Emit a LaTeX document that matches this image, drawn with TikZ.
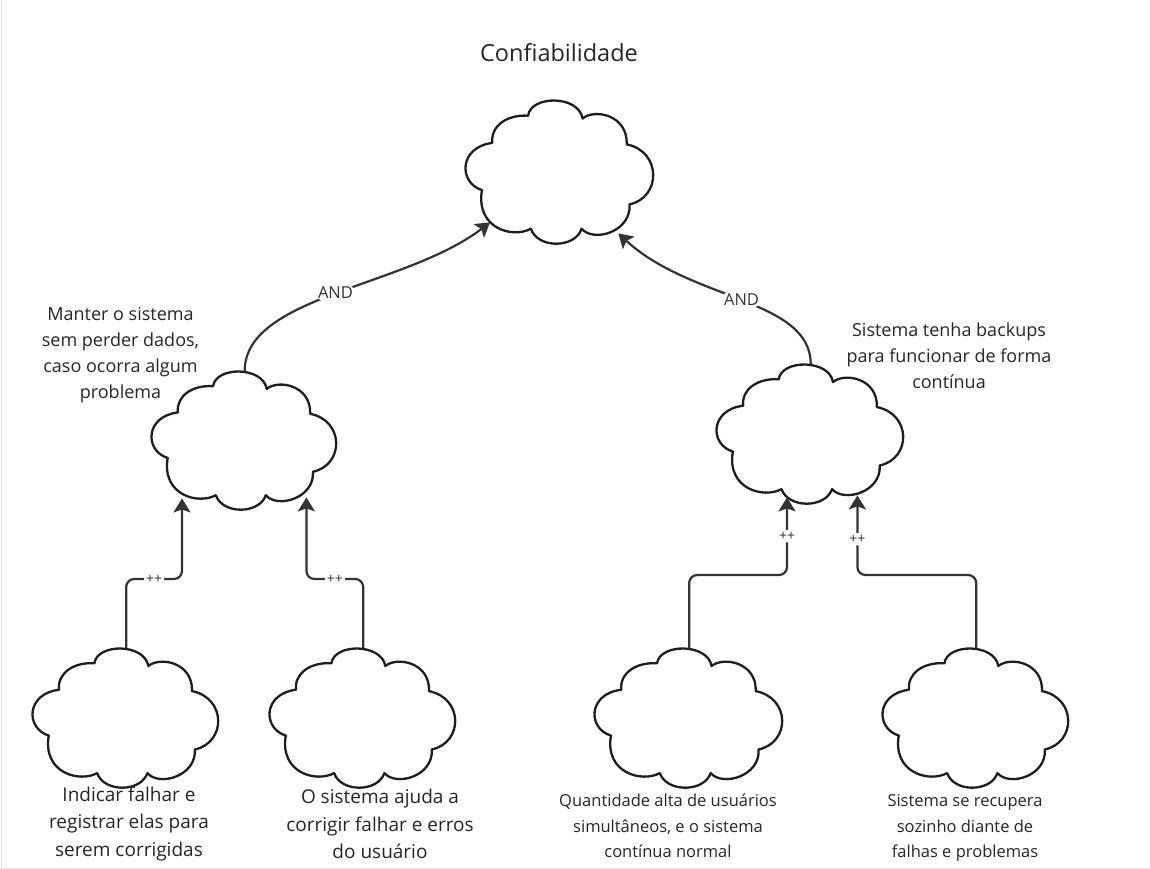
\documentclass[tikz,border=0pt]{standalone}
\usepackage{fontspec}
\setmainfont{Open Sans}
\usetikzlibrary{arrows.meta,calc}
\definecolor{ink}{HTML}{1E1E1E}
\definecolor{conncol}{HTML}{333333}
\definecolor{txt}{HTML}{262626}
\tikzset{
  cloudline/.style={draw=ink, line width=2.3pt, fill=white, line join=round},
  conn/.style={draw=conncol, line width=2.2pt, rounded corners=8pt,
    -{Stealth[length=14pt,width=17pt,inset=3pt]}},
  andlbl/.style={fill=white, inner sep=2pt, text=conncol, font=\fontsize{16.5}{18}\selectfont},
  pluslbl/.style={fill=white, inner sep=2pt, text=conncol, font=\fontsize{14}{16}\selectfont},
  goaltxt/.style={align=center, text=txt, inner sep=0pt, font=\fontsize{18}{25.8}\selectfont},
  leaftxt/.style={align=center, text=txt, inner sep=0pt, font=\fontsize{19}{27.5}\selectfont},
  leaftxtb/.style={align=center, text=txt, inner sep=0pt, font=\fontsize{16.5}{25.5}\selectfont},
}
\newcommand{\mycloud}[5]{%
  \node[inner sep=0pt, minimum width=#4pt, minimum height=#5pt, anchor=north west] (#1) at (#2,#3) {};
  \path[cloudline, shift={(#2,#3)}, xscale=#4, yscale=#5]
    (0.085,0.63) .. controls (-0.04,0.58) and (-0.04,0.33) .. (0.14,0.30)
    .. controls (0.13,0.18) and (0.22,0.10) .. (0.33,0.11)
    .. controls (0.345,-0.035) and (0.60,-0.035) .. (0.62,0.13)
    .. controls (0.68,0.06) and (0.86,0.10) .. (0.855,0.31)
    .. controls (1.04,0.36) and (1.04,0.68) .. (0.87,0.73)
    .. controls (0.88,0.92) and (0.68,1.0) .. (0.615,0.90)
    .. controls (0.58,1.04) and (0.38,1.04) .. (0.345,0.90)
    .. controls (0.25,0.97) and (0.05,0.90) .. cycle;
}
\begin{document}
\begin{tikzpicture}[x=1pt,y=-1pt]
\useasboundingbox (0,0) rectangle (1150,869);
\fill[white] (0,0) rectangle (1150,869);
% faint frame of the screenshot
\draw[gray!22, line width=1pt] (1,0) -- (1,868) -- (1150,868);

% clouds
\mycloud{top}{466}{100}{188}{143}
\mycloud{midL}{152}{371}{185}{138}
\mycloud{midR}{717}{364}{187}{139}
\mycloud{bl1}{33}{648}{186}{139}
\mycloud{bl2}{270}{648}{186}{139}
\mycloud{br1}{595}{648}{188}{139}
\mycloud{br2}{883}{648}{186}{139}

% texts
\node[text=txt, inner sep=0pt, font=\fontsize{23.5}{26}\selectfont] (title) at (559,53) {Confiabilidade};
\node[goaltxt] (tmidL) at (120.5,355) {Manter o sistema\\sem perder dados,\\caso ocorra algum\\problema};
\node[goaltxt] (tmidR) at (949,356) {Sistema tenha backups\\para funcionar de forma\\contínua};
\node[leaftxt] (tbl1) at (129,824) {Indicar falhar e\\registrar elas para\\serem corrigidas};
\node[leaftxt] (tbl2) at (380,824) {O sistema ajuda a\\corrigir falhar e erros\\do usuário};
\node[leaftxtb] (tbr1) at (668,826) {Quantidade alta de usuários\\simultâneos, e o sistema\\contínua normal};
\node[leaftxtb] (tbr2) at (965,828) {Sistema se recupera\\sozinho diante de\\falhas e problemas};

% arrow tips on clouds
\coordinate (tipA) at ([xshift=24pt,yshift=21pt]top.south west);
\coordinate (tipB) at ([xshift=-36pt,yshift=10pt]top.south east);
\coordinate (tipL1) at ([xshift=30pt,yshift=11pt]midL.south west);
\coordinate (tipL2) at ([xshift=-31pt,yshift=12pt]midL.south east);
\coordinate (tipR1) at ([xshift=70pt,yshift=6pt]midR.south west);
\coordinate (tipR2) at ([xshift=-47pt,yshift=8pt]midR.south east);
\coordinate (hL) at (0,579);
\coordinate (hR) at (0,575);

% AND connectors
\draw[conn] (midL.north) .. controls +(0,-75) and +(-85,65) .. node[andlbl, pos=0.5] {AND} (tipA);
\draw[conn] (midR.north) .. controls +(0,-65) and +(72,67) .. node[andlbl, pos=0.5] {AND} (tipB);

% ++ connectors
\draw[conn] (bl1.north) -- (bl1.north |- hL) -- node[pluslbl] {++} (tipL1 |- hL) -- (tipL1);
\draw[conn] (bl2.north) -- (bl2.north |- hL) -- node[pluslbl] {++} (tipL2 |- hL) -- (tipL2);
\draw[conn] (br1.north) -- (br1.north |- hR) -- (tipR1 |- hR) -- node[pluslbl, pos=0.5] {++} (tipR1);
\draw[conn] (br2.north) -- (br2.north |- hR) -- (tipR2 |- hR) -- node[pluslbl, pos=0.45] {++} (tipR2);
\end{tikzpicture}
\end{document}
